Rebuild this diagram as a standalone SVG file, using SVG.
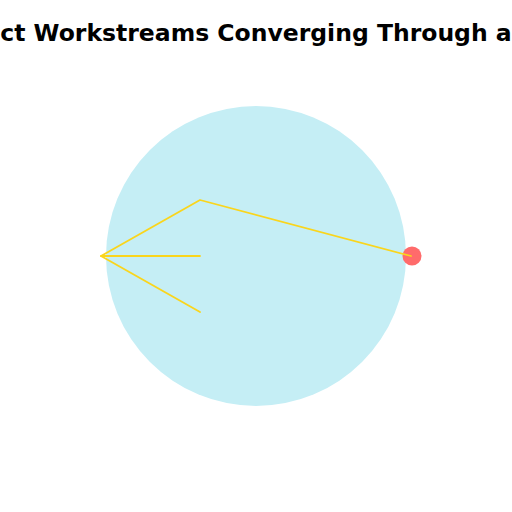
<svg xmlns="http://www.w3.org/2000/svg" width="512" height="512" viewBox="0 0 512 512">
<style>
.title{font-family:"DejaVu Sans",sans-serif;font-weight:bold;font-size:23.5px;fill:#000}
.edge{stroke:#fad51c;stroke-width:1.8;fill:none;stroke-linecap:round;stroke-linejoin:round}
</style>
<rect width="512" height="512" fill="#fff"/>
<text class="title" x="256" y="40.5" text-anchor="middle">ct Workstreams Converging Through a</text>
<g id="hub"><circle cx="256" cy="256" r="150" fill="#c5eef5"/></g>
<g id="goal"><circle cx="412" cy="256" r="9.5" fill="#ff6b6b"/></g>
<g id="connectors">
<polyline class="edge" points="200,312 101,256 200,256"/>
<polyline class="edge" points="101,256 200,200 411,256"/>
</g>
</svg>
